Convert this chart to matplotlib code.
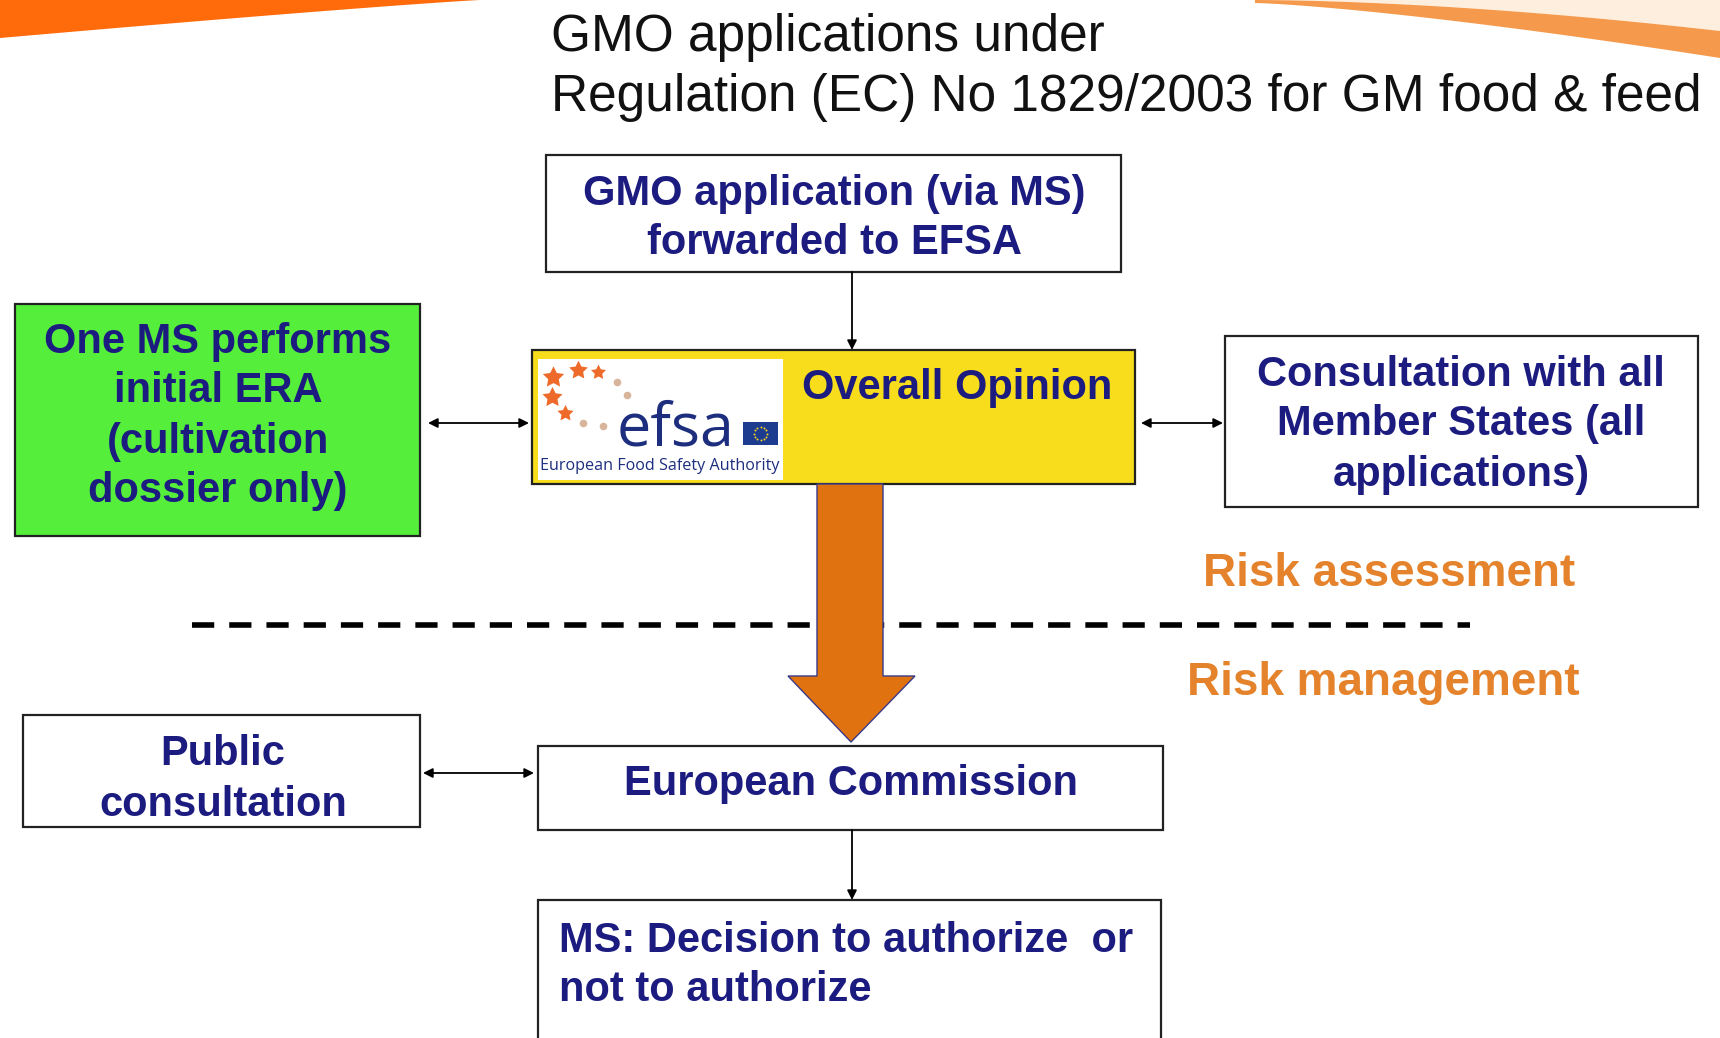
import matplotlib
matplotlib.use("Agg")
import matplotlib.pyplot as plt
from matplotlib.patches import Rectangle, Polygon
import numpy as np

plt.rcParams['font.family'] = ['Liberation Sans', 'DejaVu Sans']

# ---- content ----
title_lines = ["GMO applications under", "Regulation (EC) No 1829/2003 for GM food & feed"]
top_box_lines = ["GMO application (via MS)", "forwarded to EFSA"]
green_box_lines = ["One MS performs", "initial ERA", "(cultivation", "dossier only)"]
center_label = "Overall Opinion"
right_box_lines = ["Consultation with all", "Member States (all", "applications)"]
risk_labels = ["Risk assessment", "Risk management"]
public_lines = ["Public", "consultation"]
ec_label = "European Commission"
decision_lines = ["MS: Decision to authorize  or", "not to authorize"]
logo_word = "efsa"
logo_sub = "European Food Safety Authority"

NAVY = "#1c1c80"
ORANGE_TXT = "#e4832c"
DY = 4  # text baseline tweak

W, H = 1720, 1038
fig = plt.figure(figsize=(W / 100, H / 100), dpi=100)
ax = fig.add_axes([0, 0, 1, 1])
ax.set_xlim(0, W)
ax.set_ylim(H, 0)
ax.axis('off')

# ---- header swooshes ----
xs = np.linspace(0, 480, 60)
bottom = 38 * (1 - xs / 480) ** 1.1
poly = np.vstack([np.column_stack([xs, bottom]), [[480, 0], [0, 0]]])
ax.add_patch(Polygon(poly, closed=True, color="#ff6a0a", lw=0))

xr = np.linspace(1255, 1720, 80)
t = (xr - 1255) / 465
upper = 31 * t ** 1.7
lower = 58 * t ** 1.3 + 3 * (1 - t)
ax.add_patch(Polygon(np.vstack([np.column_stack([xr, np.zeros_like(xr)]),
                                np.column_stack([xr[::-1], upper[::-1]])]),
                     closed=True, color="#fdeedd", lw=0))
ax.add_patch(Polygon(np.vstack([np.column_stack([xr, upper]),
                                np.column_stack([xr[::-1], lower[::-1]])]),
                     closed=True, color="#f59a4c", lw=0))

# ---- title ----
for i, s in enumerate(title_lines):
    ax.text(551, 33 + DY + i * 60, s, fontsize=37, color="#111111", ha='left', va='center')

def box(x0, y0, x1, y1, fc="white"):
    ax.add_patch(Rectangle((x0, y0), x1 - x0, y1 - y0, facecolor=fc,
                           edgecolor="#222222", lw=1.6, zorder=2))

def lines(cx, ys, texts, ha='center', size=30, color=NAVY):
    for y, s in zip(ys, texts):
        ax.text(cx, y + DY, s, fontsize=size, fontweight='bold', color=color,
                ha=ha, va='center', zorder=5)

# top box
box(546, 155, 1121, 272)
lines(834, [190, 239], top_box_lines)

# green box
box(15, 304, 420, 536, fc="#55ee3a")
lines(218, [338, 387, 438, 487], green_box_lines)

# yellow box
box(532, 350, 1135, 484, fc="#f7dd1c")
lines(957, [384], [center_label])

# efsa logo
ax.add_patch(Rectangle((538, 359), 245, 121, facecolor="white", edgecolor="none", zorder=3))
star_xy = [(553, 377), (578, 370), (598, 372), (552, 397), (565, 413)]
star_sz = [260, 200, 130, 230, 150]
for (sx, sy), s in zip(star_xy, star_sz):
    ax.scatter(sx, sy, s=s, marker=(5, 1, 0), color="#ee6a2a", lw=0, zorder=4)
dot_xy = [(617, 382), (627, 395), (583, 423), (603, 426)]
for sx, sy in dot_xy:
    ax.scatter(sx, sy, s=30, color="#d8b49a", lw=0, zorder=4)
ax.text(617, 445, logo_word, fontsize=44, color="#1d2e7e",
        family='Open Sans', ha='left', va='baseline', zorder=4)
ax.add_patch(Rectangle((743, 422), 35, 23, facecolor="#1d3c8f", edgecolor="none", zorder=4))
ang = np.linspace(0, 2 * np.pi, 13)[:-1]
ax.scatter(760.5 + 6.5 * np.cos(ang), 433.5 + 6.5 * np.sin(ang), s=2, color="#f5d21c",
           lw=0, zorder=5)
ax.text(660, 466, logo_sub, fontsize=11.6, color="#1d2e7e",
        family='Open Sans', ha='center', va='center', zorder=4)

# right box
box(1225, 336, 1698, 507)
lines(1461, [371, 420, 471], right_box_lines)

# risk labels
lines(1389, [570], [risk_labels[0]], size=33, color=ORANGE_TXT)
lines(1383, [679], [risk_labels[1]], size=33, color=ORANGE_TXT)

# dashed line
ax.plot([192, 1470], [625, 625], color="black", lw=4, dashes=(4.0, 2.7),
        solid_capstyle='butt', dash_capstyle='butt', zorder=1)

# big orange arrow
arrow = [(817, 484), (883, 484), (883, 676), (915, 676), (851, 742),
         (788, 676), (817, 676)]
ax.add_patch(Polygon(arrow, closed=True, facecolor="#e0720f", edgecolor="#3a3a8a",
                     lw=1.0, zorder=3))

# public consultation
box(23, 715, 420, 827)
lines(223, [750, 801], public_lines)

# European Commission
box(538, 746, 1163, 830)
lines(851, [780], [ec_label])

# decision box (runs off bottom)
box(538, 900, 1161, 1060)
lines(559, [937, 986], decision_lines, ha='left')

# small arrows
def arr(x0, y0, x1, y1, style):
    ax.annotate("", xy=(x1, y1), xytext=(x0, y0),
                arrowprops=dict(arrowstyle=style, color="black", lw=1.3,
                                shrinkA=0, shrinkB=0, mutation_scale=14), zorder=6)

arr(852, 272, 852, 350, '-|>')
arr(852, 830, 852, 900, '-|>')
arr(428, 423, 529, 423, '<|-|>')
arr(1141, 423, 1223, 423, '<|-|>')
arr(423, 773, 534, 773, '<|-|>')

fig.savefig("out.png", dpi=100)
